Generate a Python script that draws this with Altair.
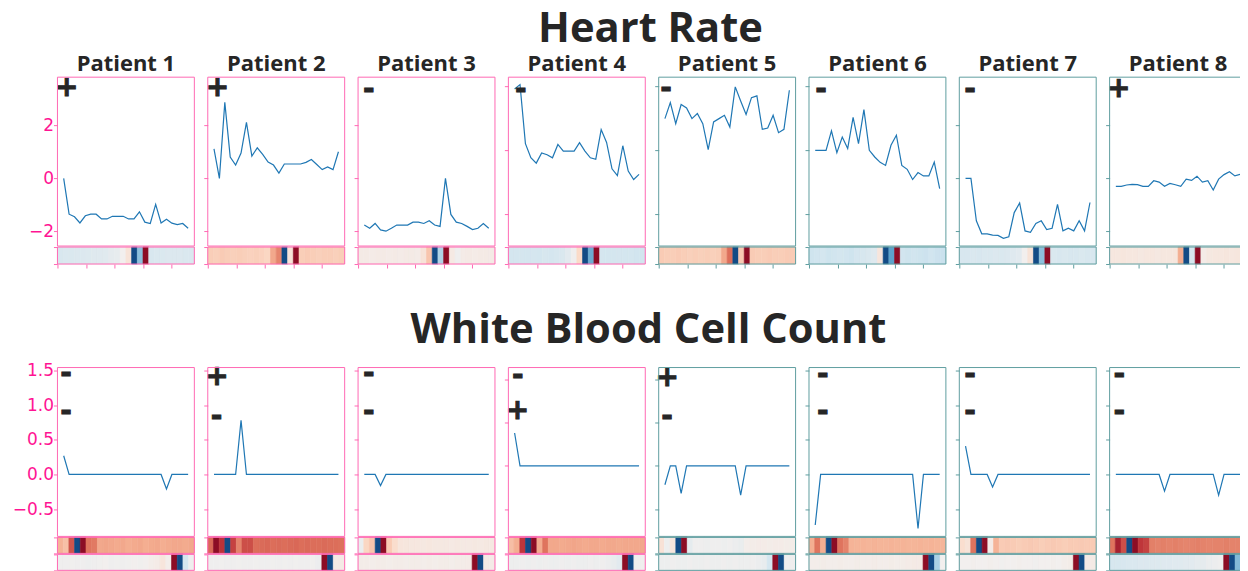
import altair as alt
import pandas as pd

# ---------------- data ----------------
patients = ["Patient 1", "Patient 2", "Patient 3", "Patient 4",
            "Patient 5", "Patient 6", "Patient 7", "Patient 8"]

hr_signs = ["+", "+", "-", "-", "-", "-", "-", "+"]
wbc_signs_top = ["-", "+", "-", "-", "+", "-", "-", "-"]
wbc_signs_bottom = ["-", "-", "-", "+", "-", "-", "-", "-"]

hr_p1 = [0.0, -1.35, -1.45, -1.68, -1.41, -1.35, -1.35, -1.53, -1.53, -1.43, -1.43, -1.43,
         -1.53, -1.53, -1.26, -1.65, -1.70, -0.98, -1.68, -1.54, -1.69, -1.74, -1.70, -1.88]
hr_p2 = [1.11, 0.0, 2.86, 0.80, 0.50, 0.95, 2.11, 0.84, 1.15, 0.90, 0.61, 0.50,
         0.20, 0.54, 0.54, 0.54, 0.54, 0.60, 0.71, 0.52, 0.33, 0.43, 0.33, 1.00]
hr_p3 = [-1.76, -1.88, -1.70, -1.94, -1.99, -1.88, -1.76, -1.76, -1.76, -1.65, -1.65, -1.70,
         -1.60, -1.76, -1.81, 0.0, -1.36, -1.65, -1.70, -1.81, -1.93, -1.88, -1.70, -1.88]
hr_p4 = [2.40, 2.57, 0.26, -0.29, -0.50, -0.10, -0.17, -0.29, 0.23, -0.03, -0.03, -0.03,
         0.30, -0.03, -0.29, -0.35, 0.81, 0.31, -0.72, -0.99, 0.18, -0.81, -1.14, -0.94]
hr_p5 = [1.24, 1.87, 1.04, 1.79, 1.66, 1.24, 1.44, 1.04, 0.03, 1.11, 1.24, 1.37,
         0.91, 2.48, 1.93, 1.40, 2.06, 2.13, 0.82, 0.87, 1.37, 0.69, 0.82, 2.35]
hr_p6 = [0.0, 0.0, 0.0, 0.76, -0.09, 0.52, 0.07, 1.29, 0.26, 1.59, 0.0, -0.26,
         -0.47, -0.59, 0.20, 0.59, -0.59, -0.74, -1.14, -0.87, -1.00, -1.00, -0.46, -1.50]
hr_p7 = [0.0, 0.0, -1.60, -2.09, -2.09, -2.14, -2.15, -2.26, -2.20, -1.29, -0.93, -1.98,
         -2.03, -1.70, -1.60, -1.93, -1.88, -0.98, -1.98, -1.88, -1.98, -1.60, -1.98, -0.91]
hr_p8 = [-0.30, -0.30, -0.25, -0.23, -0.24, -0.30, -0.30, -0.09, -0.14, -0.30, -0.19, -0.24,
         -0.30, -0.03, -0.08, 0.08, -0.14, -0.09, -0.44, -0.03, 0.14, 0.25, 0.09, 0.15]

wbc_p1 = [0.27, 0.0, 0.0, 0.0, 0.0, 0.0, 0.0, 0.0, 0.0, 0.0, 0.0, 0.0,
          0.0, 0.0, 0.0, 0.0, 0.0, 0.0, 0.0, -0.21, 0.0, 0.0, 0.0, 0.0]
wbc_p2 = [0.0, 0.0, 0.0, 0.0, 0.0, 0.78, 0.0, 0.0, 0.0, 0.0, 0.0, 0.0,
          0.0, 0.0, 0.0, 0.0, 0.0, 0.0, 0.0, 0.0, 0.0, 0.0, 0.0, 0.0]
wbc_p3 = [0.0, 0.0, 0.0, -0.16, 0.0, 0.0, 0.0, 0.0, 0.0, 0.0, 0.0, 0.0,
          0.0, 0.0, 0.0, 0.0, 0.0, 0.0, 0.0, 0.0, 0.0, 0.0, 0.0, 0.0]
wbc_p4 = [0.38, 0.0, 0.0, 0.0, 0.0, 0.0, 0.0, 0.0, 0.0, 0.0, 0.0, 0.0,
          0.0, 0.0, 0.0, 0.0, 0.0, 0.0, 0.0, 0.0, 0.0, 0.0, 0.0, 0.0]
wbc_p5 = [-0.22, 0.0, 0.0, -0.32, 0.0, 0.0, 0.0, 0.0, 0.0, 0.0, 0.0, 0.0,
          0.0, 0.0, -0.34, 0.0, 0.0, 0.0, 0.0, 0.0, 0.0, 0.0, 0.0, 0.0]
wbc_p6 = [-0.73, 0.0, 0.0, 0.0, 0.0, 0.0, 0.0, 0.0, 0.0, 0.0, 0.0, 0.0,
          0.0, 0.0, 0.0, 0.0, 0.0, 0.0, 0.0, -0.78, 0.0, 0.0, 0.0, 0.0]
wbc_p7 = [0.41, 0.0, 0.0, 0.0, 0.0, -0.18, 0.0, 0.0, 0.0, 0.0, 0.0, 0.0,
          0.0, 0.0, 0.0, 0.0, 0.0, 0.0, 0.0, 0.0, 0.0, 0.0, 0.0, 0.0]
wbc_p8 = [0.0, 0.0, 0.0, 0.0, 0.0, 0.0, 0.0, 0.0, 0.0, -0.24, 0.0, 0.0,
          0.0, 0.0, 0.0, 0.0, 0.0, 0.0, 0.0, -0.30, 0.0, 0.0, 0.0, 0.0]

hr_strip_p1 = [-0.16, -0.15, -0.15, -0.14, -0.14, -0.13, -0.12, -0.12, -0.11, -0.08, -0.07, 0.0,
               0.12, -1.0, -0.45, 1.0, -0.16, -0.15, -0.15, -0.14, -0.14, -0.14, -0.15, -0.15]
hr_strip_p2 = [0.26, 0.25, 0.27, 0.26, 0.25, 0.26, 0.25, 0.24, 0.25, 0.24, 0.22, 0.42,
               0.54, -1.0, 0.12, 1.0, 0.26, 0.27, 0.26, 0.25, 0.26, 0.26, 0.25, 0.26]
hr_strip_p3 = [0.05, 0.05, 0.04, 0.05, 0.05, 0.04, 0.05, 0.04, 0.05, 0.05, 0.04, 0.12,
               0.30, -1.0, -0.33, 1.0, 0.06, -0.02, 0.04, 0.05, 0.04, 0.05, 0.05, 0.05]
hr_strip_p4 = [-0.19, -0.19, -0.18, -0.19, -0.18, -0.19, -0.17, -0.18, -0.17, -0.15, -0.10, -0.02,
               0.20, -1.0, -0.55, 1.0, -0.18, -0.19, -0.19, -0.18, -0.19, -0.19, -0.20, -0.20]
hr_strip_p5 = [0.27, 0.26, 0.26, 0.27, 0.26, 0.25, 0.26, 0.25, 0.26, 0.25, 0.26, 0.42,
               0.62, -1.0, 0.28, 1.0, 0.27, 0.26, 0.26, 0.27, 0.26, 0.26, 0.27, 0.27]
hr_strip_p6 = [-0.21, -0.20, -0.19, -0.21, -0.20, -0.19, -0.20, -0.21, -0.18, -0.17, -0.15, -0.12,
               0.10, -1.0, -0.60, 1.0, -0.20, -0.21, -0.20, -0.21, -0.22, -0.20, -0.22, -0.23]
hr_strip_p7 = [-0.16, -0.16, -0.15, -0.16, -0.15, -0.15, -0.14, -0.15, -0.14, -0.12, -0.10, 0.0,
               0.12, -1.0, -0.45, 1.0, -0.15, -0.16, -0.15, -0.16, -0.16, -0.15, -0.16, -0.16]
hr_strip_p8 = [0.08, 0.08, 0.09, 0.08, 0.08, 0.07, 0.08, 0.08, 0.07, 0.08, 0.08, 0.09,
               0.40, -1.0, -0.17, 1.0, 0.04, 0.07, 0.08, 0.08, 0.09, 0.08, 0.09, 0.09]

wbc_strip1_p1 = [0.38, 0.32, 0.70, -1.0, 1.0, 0.60, 0.58, 0.42, 0.43, 0.42, 0.41, 0.42,
                 0.40, 0.41, 0.42, 0.40, 0.41, 0.42, 0.40, 0.41, 0.42, 0.42, 0.41, 0.42]
wbc_strip2_p1 = [-0.02, -0.02, -0.01, -0.02, -0.02, -0.03, -0.02, -0.01, 0.0, -0.02, -0.01, -0.02,
                 -0.01, 0.0, -0.01, 0.0, 0.02, 0.04, 0.10, 0.02, 1.0, -1.0, -0.18, -0.02]
wbc_strip1_p2 = [0.64, 1.0, 0.82, -1.0, 0.76, 0.55, 0.72, 0.72, 0.62, 0.63, 0.64, 0.62,
                 0.63, 0.62, 0.63, 0.64, 0.62, 0.63, 0.62, 0.62, 0.63, 0.62, 0.62, 0.61]
wbc_strip2_p2 = [-0.02, -0.02, -0.01, -0.02, -0.02, -0.01, -0.02, -0.02, -0.01, -0.02, -0.02, -0.01,
                 -0.02, -0.01, -0.02, -0.01, -0.02, -0.02, -0.01, -0.04, 1.0, -1.0, 0.05, 0.05]
wbc_strip1_p3 = [-0.05, 0.22, 0.30, -1.0, 1.0, 0.27, 0.18, 0.10, 0.09, 0.08, 0.08, 0.07,
                 0.08, 0.07, 0.07, 0.07, 0.06, 0.07, 0.06, 0.06, 0.07, 0.06, 0.07, 0.07]
wbc_strip2_p3 = [0.03, 0.03, 0.02, 0.03, 0.03, 0.02, 0.03, 0.03, 0.02, 0.03, 0.03, 0.02,
                 0.03, 0.02, 0.03, 0.03, 0.02, 0.03, 0.03, 0.04, 1.0, -1.0, 0.05, 0.04]
wbc_strip1_p4 = [0.33, 0.40, 0.80, -1.0, 1.0, 0.41, 0.60, 0.42, 0.42, 0.41, 0.42, 0.43,
                 0.42, 0.41, 0.42, 0.42, 0.41, 0.42, 0.42, 0.41, 0.42, 0.42, 0.42, 0.42]
wbc_strip2_p4 = [-0.03, -0.03, -0.02, -0.03, -0.02, -0.03, -0.02, -0.03, -0.03, -0.02, -0.03, -0.02,
                 -0.03, -0.03, -0.02, -0.03, -0.02, -0.04, -0.06, -0.10, 1.0, -1.0, -0.01, -0.01]
wbc_strip1_p5 = [0.13, -0.03, 0.10, -1.0, 1.0, -0.08, -0.02, -0.02, -0.03, -0.02, -0.02, -0.03,
                 -0.02, -0.04, -0.05, 0.02, 0.03, 0.04, 0.04, 0.03, 0.04, 0.04, 0.03, 0.03]
wbc_strip2_p5 = [-0.03, -0.03, -0.02, -0.03, -0.03, -0.02, -0.03, -0.03, -0.02, -0.03, -0.03, -0.02,
                 -0.03, -0.02, -0.03, -0.03, -0.02, -0.04, -0.06, -0.18, 1.0, -1.0, -0.02, -0.02]
wbc_strip1_p6 = [0.40, 0.60, 0.40, -1.0, 1.0, 0.60, 0.55, 0.38, 0.37, 0.38, 0.37, 0.38,
                 0.37, 0.37, 0.38, 0.37, 0.38, 0.37, 0.37, 0.38, 0.37, 0.38, 0.37, 0.37]
wbc_strip2_p6 = [0.02, 0.02, 0.03, 0.02, 0.02, 0.03, 0.02, 0.02, 0.03, 0.02, 0.02, 0.03,
                 0.02, 0.02, 0.03, 0.02, 0.03, 0.04, 0.05, 0.05, 1.0, -1.0, -0.35, 0.0]
wbc_strip1_p7 = [0.17, 0.12, 0.60, -1.0, 1.0, 0.05, 0.38, 0.27, 0.28, 0.27, 0.26, 0.27,
                 0.28, 0.27, 0.26, 0.27, 0.28, 0.27, 0.26, 0.27, 0.27, 0.28, 0.27, 0.27]
wbc_strip2_p7 = [0.0, 0.0, 0.01, 0.0, 0.0, 0.01, 0.0, -0.01, 0.0, 0.0, 0.01, 0.0,
                 0.0, -0.01, 0.0, 0.0, 0.01, 0.0, 0.02, 0.03, 1.0, -1.0, 0.05, 0.05]
wbc_strip1_p8 = [0.60, 0.90, 0.72, -1.0, 1.0, 0.80, 0.76, 0.56, 0.55, 0.56, 0.55, 0.56,
                 0.55, 0.54, 0.55, 0.56, 0.55, 0.54, 0.55, 0.55, 0.56, 0.55, 0.55, 0.54]
wbc_strip2_p8 = [-0.17, -0.17, -0.16, -0.15, -0.15, -0.14, -0.14, -0.13, -0.13, -0.12, -0.12, -0.11,
                 -0.11, -0.10, -0.10, -0.08, -0.08, -0.05, -0.04, -0.02, 1.0, -1.0, -0.48, -0.20]

hr_ticks_a = [-2, 0, 2]
hr_ticks_b = [-2.5, 0, 2.5]
wbc_ticks_a = [-0.5, 0.0, 0.5, 1.0, 1.5]
wbc_ticks_b = [-0.5, 0.0, 0.5, 1.0]
strip_ticks = [0, 5, 10, 15, 20]

hr_series = [hr_p1, hr_p2, hr_p3, hr_p4, hr_p5, hr_p6, hr_p7, hr_p8]
wbc_series = [wbc_p1, wbc_p2, wbc_p3, wbc_p4, wbc_p5, wbc_p6, wbc_p7, wbc_p8]
hr_strips = [hr_strip_p1, hr_strip_p2, hr_strip_p3, hr_strip_p4,
             hr_strip_p5, hr_strip_p6, hr_strip_p7, hr_strip_p8]
wbc_strips1 = [wbc_strip1_p1, wbc_strip1_p2, wbc_strip1_p3, wbc_strip1_p4,
               wbc_strip1_p5, wbc_strip1_p6, wbc_strip1_p7, wbc_strip1_p8]
wbc_strips2 = [wbc_strip2_p1, wbc_strip2_p2, wbc_strip2_p3, wbc_strip2_p4,
               wbc_strip2_p5, wbc_strip2_p6, wbc_strip2_p7, wbc_strip2_p8]

# ---------------- layout / style ----------------
W = 137
H_PLOT = 169
H_HR_STRIP = 17
H_WBC_STRIP = 16
GAP = 13.43
AXIS_EXT = 45.5
BLOCK_GAP = 40.6

PINK = "#ff69b4"
TEAL = "#5f9ea0"
LABEL_PINK = "#ff1493"
TEXT = "#262626"
LINE = "#1f77b4"
TITLE_FONT = "Open Sans"
LABEL_FONT = "DejaVu Sans"
SIGN_FONT = "DejaVu Sans"
SIGN_SIZE = 28
SIGN_MID = {"+": 0.32, "-": 0.30}

frame_colors = [PINK, PINK, PINK, PINK, TEAL, TEAL, TEAL, TEAL]
hr_kind = ["a", "a", "a", "b", "b", "b", "a", "a"]
wbc_kind = ["a", "a", "a", "b", "b", "a", "a", "a"]
HR_DOMAIN = {"a": [-2.55, 3.81], "b": [-3.74, 2.86]}
HR_TICKS = {"a": hr_ticks_a, "b": hr_ticks_b}
WBC_DOMAIN = {"a": [-0.894, 1.543], "b": [-0.818, 1.138]}
WBC_TICKS = {"a": wbc_ticks_a, "b": wbc_ticks_b}

HR_SIGN_POS = [(9.2, 9.5), (9.8, 9.5), (10.7, 12.7), (12.4, 12.5),
               (7.3, 11.8), (12.0, 12.8), (10.7, 12.8), (9.2, 10.5)]
WBC_SIGN_POS_TOP = [(8.7, 6.3), (9.2, 9.0), (10.7, 6.3), (9.3, 8.3),
                    (8.5, 9.2), (13.7, 6.7), (10.7, 6.7), (9.7, 6.7)]
WBC_SIGN_POS_BOT = [(8.7, 44.0), (8.9, 49.3), (10.7, 44.0), (9.2, 42.5),
                    (8.4, 49.3), (13.7, 44.3), (10.7, 44.3), (9.7, 44.3)]

one_row = pd.DataFrame({"k": [0]})
cscale = alt.Scale(scheme="redblue", domain=[-1, 1], reverse=True)


def frame(color, h):
    return alt.Chart(one_row).mark_rect(fillOpacity=0, stroke=color, strokeWidth=1).encode(
        x=alt.value(0), x2=alt.value(W), y=alt.value(0), y2=alt.value(h))


def top_pad():
    # invisible band that gives every panel the same top extent (keeps titles level)
    return alt.Chart(one_row).mark_rect(opacity=0).encode(
        x=alt.value(0), x2=alt.value(W), y=alt.value(-6), y2=alt.value(0))


def sign(s, cx, cy):
    return alt.Chart(one_row).mark_text(
        text=s, font=SIGN_FONT, fontWeight="bold", fontSize=SIGN_SIZE, color=TEXT,
        stroke=TEXT, strokeWidth=0.9, align="center", baseline="alphabetic").encode(
        x=alt.value(cx), y=alt.value(cy + SIGN_MID[s] * SIGN_SIZE))


def line_view(values, domain, ticks, color, first, fmt, signs, title=None):
    n = len(values)
    df = pd.DataFrame({"t": list(range(n)), "v": values})
    axis = alt.Axis(values=ticks, labels=first, format=fmt, tickSize=4, tickColor=color,
                    tickWidth=1, domain=False, grid=False, title=None,
                    labelColor=LABEL_PINK, labelFont=LABEL_FONT, labelFontSize=17,
                    labelPadding=0, minExtent=AXIS_EXT if first else 0)
    pad = (n - 1) * 0.05
    line = alt.Chart(df).mark_line(color=LINE, strokeWidth=1.2).encode(
        x=alt.X("t:Q", scale=alt.Scale(domain=[-pad, n - 1 + pad], nice=False, zero=False), axis=None),
        y=alt.Y("v:Q", scale=alt.Scale(domain=domain, nice=False, zero=False), axis=axis))
    layers = [line, top_pad()] + [sign(s, cx, cy) for s, cx, cy in signs] + [frame(color, H_PLOT)]
    ch = alt.layer(*layers).properties(width=W, height=H_PLOT)
    if title is not None:
        ch = ch.properties(title=alt.TitleParams(
            title, font=TITLE_FONT, fontSize=22, fontWeight="bold", color=TEXT,
            anchor="middle", baseline="alphabetic", offset=-22.2))
    return ch


def strip_view(vals, color, h, x_axis, first):
    n = len(vals)
    df = pd.DataFrame({"c": list(range(n)), "c2": list(range(1, n + 1)),
                       "y0": [0] * n, "y1": [1] * n, "v": vals})
    if x_axis:
        xaxis = alt.Axis(values=strip_ticks, labels=False, tickSize=4, tickColor=color,
                         domain=False, grid=False, title=None)
    else:
        xaxis = None
    rect = alt.Chart(df).mark_rect(strokeWidth=0.6).encode(
        x=alt.X("c:Q", scale=alt.Scale(domain=[0, n], nice=False, zero=False), axis=xaxis),
        x2="c2:Q",
        y=alt.Y("y0:Q", scale=alt.Scale(domain=[0, 1], nice=False, zero=False),
                axis=alt.Axis(values=[0, 1], labels=False, tickSize=4, tickColor=color,
                              domain=False, grid=False, title=None,
                              minExtent=AXIS_EXT if first else 0)),
        y2="y1:Q",
        color=alt.Color("v:Q", scale=cscale, legend=None),
        stroke=alt.Stroke("v:Q", scale=cscale, legend=None))
    return alt.layer(rect, frame(color, h)).properties(width=W, height=h)


def row(charts):
    return alt.hconcat(*charts, spacing=GAP, bounds="flush")


hr_line_row = row([
    line_view(hr_series[i], HR_DOMAIN[hr_kind[i]], HR_TICKS[hr_kind[i]], frame_colors[i],
              i == 0, "d", [(hr_signs[i],) + HR_SIGN_POS[i]], title=patients[i])
    for i in range(8)])
hr_strip_row = row([strip_view(hr_strips[i], frame_colors[i], H_HR_STRIP, True, i == 0)
                    for i in range(8)])

wbc_line_row = row([
    line_view(wbc_series[i], WBC_DOMAIN[wbc_kind[i]], WBC_TICKS[wbc_kind[i]], frame_colors[i],
              i == 0, ".1f",
              [(wbc_signs_top[i],) + WBC_SIGN_POS_TOP[i],
               (wbc_signs_bottom[i],) + WBC_SIGN_POS_BOT[i]])
    for i in range(8)])
wbc_s1_row = row([strip_view(wbc_strips1[i], frame_colors[i], H_WBC_STRIP, False, i == 0)
                  for i in range(8)])
wbc_s2_row = row([strip_view(wbc_strips2[i], frame_colors[i], H_WBC_STRIP, True, i == 0)
                  for i in range(8)])

hr_block = alt.vconcat(
    hr_line_row, hr_strip_row, spacing=-1,
    title=alt.TitleParams("Heart Rate", font=TITLE_FONT, fontSize=41.7, fontWeight="bold",
                          color=TEXT, anchor="middle", baseline="alphabetic", offset=-30,
                          dx=21))
wbc_block = alt.vconcat(
    wbc_line_row, wbc_s1_row, wbc_s2_row, spacing=-1,
    title=alt.TitleParams("White Blood Cell Count", font=TITLE_FONT, fontSize=41.7,
                          fontWeight="bold", color=TEXT, anchor="middle",
                          baseline="alphabetic", offset=-24.2, dx=19))

# the page body is 1232px wide; the rightmost few pixels of panel 8 fall past it,
# so the right padding is negative to keep the drawing at 1:1 scale
chart = alt.vconcat(hr_block, wbc_block, spacing=BLOCK_GAP).configure_view(
    stroke=None).properties(background="white",
                            padding={"left": 3.5, "top": 0, "right": -7.5, "bottom": 0})

chart.save("out.html", embed_options={"renderer": "svg", "actions": False})
